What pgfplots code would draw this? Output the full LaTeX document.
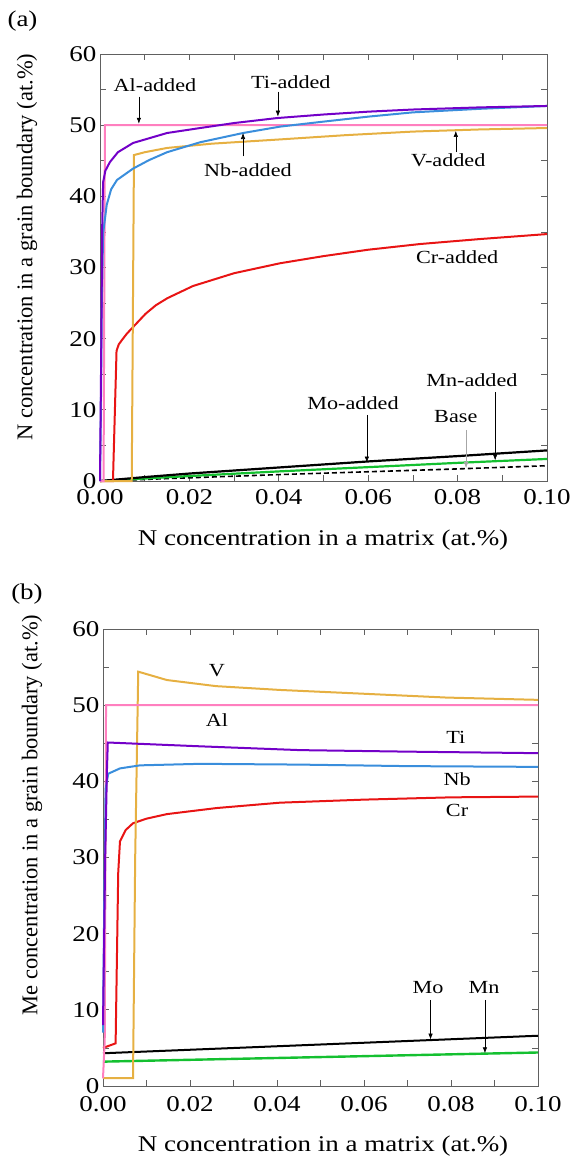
\documentclass[border=0pt]{standalone}
\usepackage{pgfplots}
\pgfplotsset{compat=1.18}
\usepackage{fontspec}
\setmainfont{Liberation Serif}[FakeStretch=1.2]
\newfontfamily\plainfont{Liberation Serif}
\usetikzlibrary{arrows.meta}
\definecolor{cAl}{HTML}{FF7FBF}
\definecolor{cTi}{HTML}{7300C8}
\definecolor{cNb}{HTML}{3A8EDC}
\definecolor{cV}{HTML}{E6B042}
\definecolor{cCr}{HTML}{E81414}
\definecolor{cMn}{HTML}{14C030}
\definecolor{axgray}{HTML}{606060}
\pgfplotsset{
  common/.style={
    scale only axis,
    xmin=0, xmax=0.1, ymin=0, ymax=60,
    xtick={0,0.02,0.04,0.06,0.08,0.1},
    xticklabels={0.00,0.02,0.04,0.06,0.08,0.10},
    minor xtick={0.01,0.03,0.05,0.07,0.09},
    ytick={0,10,20,30,40,50,60},
    minor ytick={5,15,25,35,45,55},
    tick align=inside,
    major tick length=6pt, minor tick length=6pt,
    axis line style={axgray, line width=1pt},
    every tick/.style={axgray, line width=0.8pt},
    ticklabel style={font=\fontsize{22.5}{24}\selectfont},
    /pgf/number format/assume math mode=true,
    clip=false,
  },
}
\tikzset{arr/.style={-{Latex[length=6pt,width=4.5pt]}, line width=0.6pt},
  ann/.style={font=\fontsize{18.5}{21}\selectfont},
  lab/.style={font=\fontsize{22.5}{24}\selectfont},
  cur/.style={line width=2pt}}
\begin{document}
\begin{tikzpicture}
\useasboundingbox (0,0) rectangle (571pt,-1163pt);
\node[lab] at (22.5pt,-21pt) {(a)};
\node[lab] at (27pt,-594pt) {(b)};
\node[lab] at (323pt,-540pt) {N concentration in a matrix (at.\%)};
\node[lab] at (323pt,-1146pt) {N concentration in a matrix (at.\%)};
\node[lab, rotate=90, font=\plainfont\fontsize{22.5}{24}\selectfont] at (27pt,-247pt) {N concentration in a grain boundary (at.\%)};
\node[lab, rotate=90, font=\plainfont\fontsize{22.5}{24}\selectfont] at (32pt,-815pt) {Me concentration in a grain boundary (at.\%)};
% ---------------- Panel (a)
\begin{axis}[common, at={(100pt,-481pt)}, anchor=south west,
  width=447pt, height=427pt, xticklabel style={yshift=-4.5pt}]
% Base (dashed)
\addplot[black, line width=1.6pt, dash pattern=on 5pt off 3pt] coordinates {(0,0) (0.02,0.45) (0.04,0.9) (0.06,1.3) (0.08,1.7) (0.1,2.15)};
% Mn-added
\addplot[cMn, line width=2.2pt] coordinates {(0,0) (0.02,0.7) (0.04,1.35) (0.06,1.95) (0.08,2.55) (0.1,3.1)};
% Mo-added
\addplot[black, line width=2.2pt] coordinates {(0,0) (0.01,0.55) (0.02,1.05) (0.04,1.9) (0.06,2.75) (0.08,3.5) (0.1,4.3)};
% Cr-added
\addplot[cCr, cur] coordinates {(0,0) (0.0029,0) (0.0037,18.3) (0.0042,19.2) (0.0049,19.8) (0.006,20.7) (0.0078,21.9) (0.0102,23.5) (0.0125,24.7) (0.0151,25.7) (0.0208,27.4) (0.03,29.2) (0.0403,30.6) (0.05,31.6) (0.06,32.5) (0.0716,33.3) (0.085,34.0) (0.1,34.7)};
% V-added
\addplot[cV, cur] coordinates {(0,0) (0.0071,0) (0.0076,45.8) (0.01,46.2) (0.015,46.8) (0.025,47.4) (0.0403,48.0) (0.055,48.6) (0.07,49.1) (0.085,49.4) (0.1,49.6)};
% Al-added
\addplot[cAl, cur] coordinates {(0,0) (0.0008,0) (0.0011,50) (0.1,50)};
% Nb-added
\addplot[cNb, cur] coordinates {(0,0) (0.0002,10) (0.0004,25) (0.0007,34.8) (0.0015,38.8) (0.0025,41.0) (0.0038,42.3) (0.0074,43.9) (0.011,45.1) (0.015,46.2) (0.0224,47.6) (0.032,48.9) (0.0403,49.8) (0.05,50.5) (0.06,51.2) (0.07,51.8) (0.085,52.3) (0.1,52.7)};
% Ti-added
\addplot[cTi, cur] coordinates {(0,0) (0.0003,20) (0.0005,36) (0.0007,42.0) (0.0012,43.6) (0.0022,44.8) (0.004,46.2) (0.0074,47.5) (0.015,48.9) (0.0224,49.6) (0.03,50.3) (0.0396,51.0) (0.05,51.5) (0.06,51.9) (0.07,52.2) (0.085,52.5) (0.1,52.7)};
% annotations
\node[ann] at (axis cs:0.0123,55.6) {Al-added};
\draw[arr] (axis cs:0.0087,54.0) -- (axis cs:0.0087,50.2);
\node[ann] at (axis cs:0.0427,56.1) {Ti-added};
\draw[arr] (axis cs:0.0398,54.7) -- (axis cs:0.0398,51.2);
\node[ann] at (axis cs:0.0331,43.7) {Nb-added};
\draw[arr] (axis cs:0.032,45.6) -- (axis cs:0.032,48.9);
\node[ann] at (axis cs:0.0779,45.1) {V-added};
\draw[arr] (axis cs:0.0796,46.2) -- (axis cs:0.0796,49.2);
\node[ann] at (axis cs:0.0799,31.5) {Cr-added};
\node[ann] at (axis cs:0.0566,11.0) {Mo-added};
\draw[arr] (axis cs:0.0597,9.3) -- (axis cs:0.0597,2.6);
\node[ann] at (axis cs:0.0796,9.0) {Base};
\draw[arr, gray!70] (axis cs:0.0819,7.2) -- (axis cs:0.0819,1.8);
\node[ann] at (axis cs:0.0832,14.2) {Mn-added};
\draw[arr] (axis cs:0.0884,12.5) -- (axis cs:0.0884,2.9);
\end{axis}
% ---------------- Panel (b)
\begin{axis}[common, at={(103pt,-1086pt)}, anchor=south west,
  width=435pt, height=457pt, xticklabel style={yshift=-6.5pt}]
% Mn
\addplot[cMn, line width=2.4pt] coordinates {(0,3.2) (0.1,4.4)};
% Mo
\addplot[black, cur] coordinates {(0,4.3) (0.1,6.6)};
% Cr
\addplot[cCr, cur] coordinates {(0,5.0) (0.0029,5.6) (0.0035,28) (0.0039,32.1) (0.0052,33.6) (0.0069,34.5) (0.01,35.1) (0.0147,35.7) (0.0262,36.5) (0.0407,37.2) (0.06,37.6) (0.08,37.9) (0.1,38.0)};
% V
\addplot[cV, cur] coordinates {(0,1.05) (0.0069,1.05) (0.0074,30) (0.0081,54.4) (0.0147,53.3) (0.026,52.5) (0.0407,52.0) (0.06,51.5) (0.079,51.0) (0.1,50.7)};
% Al
\addplot[cAl, cur] coordinates {(0,1) (0.0004,6) (0.0007,50) (0.1,50)};
% Nb
\addplot[cNb, cur] coordinates {(0,7) (0.0003,25) (0.0006,39) (0.0012,41.0) (0.0039,41.7) (0.0085,42.1) (0.0223,42.3) (0.045,42.2) (0.07,42.0) (0.1,41.9)};
% Ti
\addplot[cTi, cur] coordinates {(0,8) (0.0005,30) (0.0009,41.3) (0.0011,45.1) (0.0223,44.6) (0.0453,44.1) (0.07,43.9) (0.1,43.7)};
% annotations
\node[ann] at (axis cs:0.0262,54.6) {V};
\node[ann] at (axis cs:0.0262,48.1) {Al};
\node[ann] at (axis cs:0.0811,45.8) {Ti};
\node[ann] at (axis cs:0.0814,40.3) {Nb};
\node[ann] at (axis cs:0.0814,36.2) {Cr};
\node[ann] at (axis cs:0.0747,12.9) {Mo};
\draw[arr] (axis cs:0.0753,11.3) -- (axis cs:0.0753,6.1);
\node[ann] at (axis cs:0.0876,12.9) {Mn};
\draw[arr] (axis cs:0.0878,11.3) -- (axis cs:0.0878,4.3);
\end{axis}
\end{tikzpicture}
\end{document}
